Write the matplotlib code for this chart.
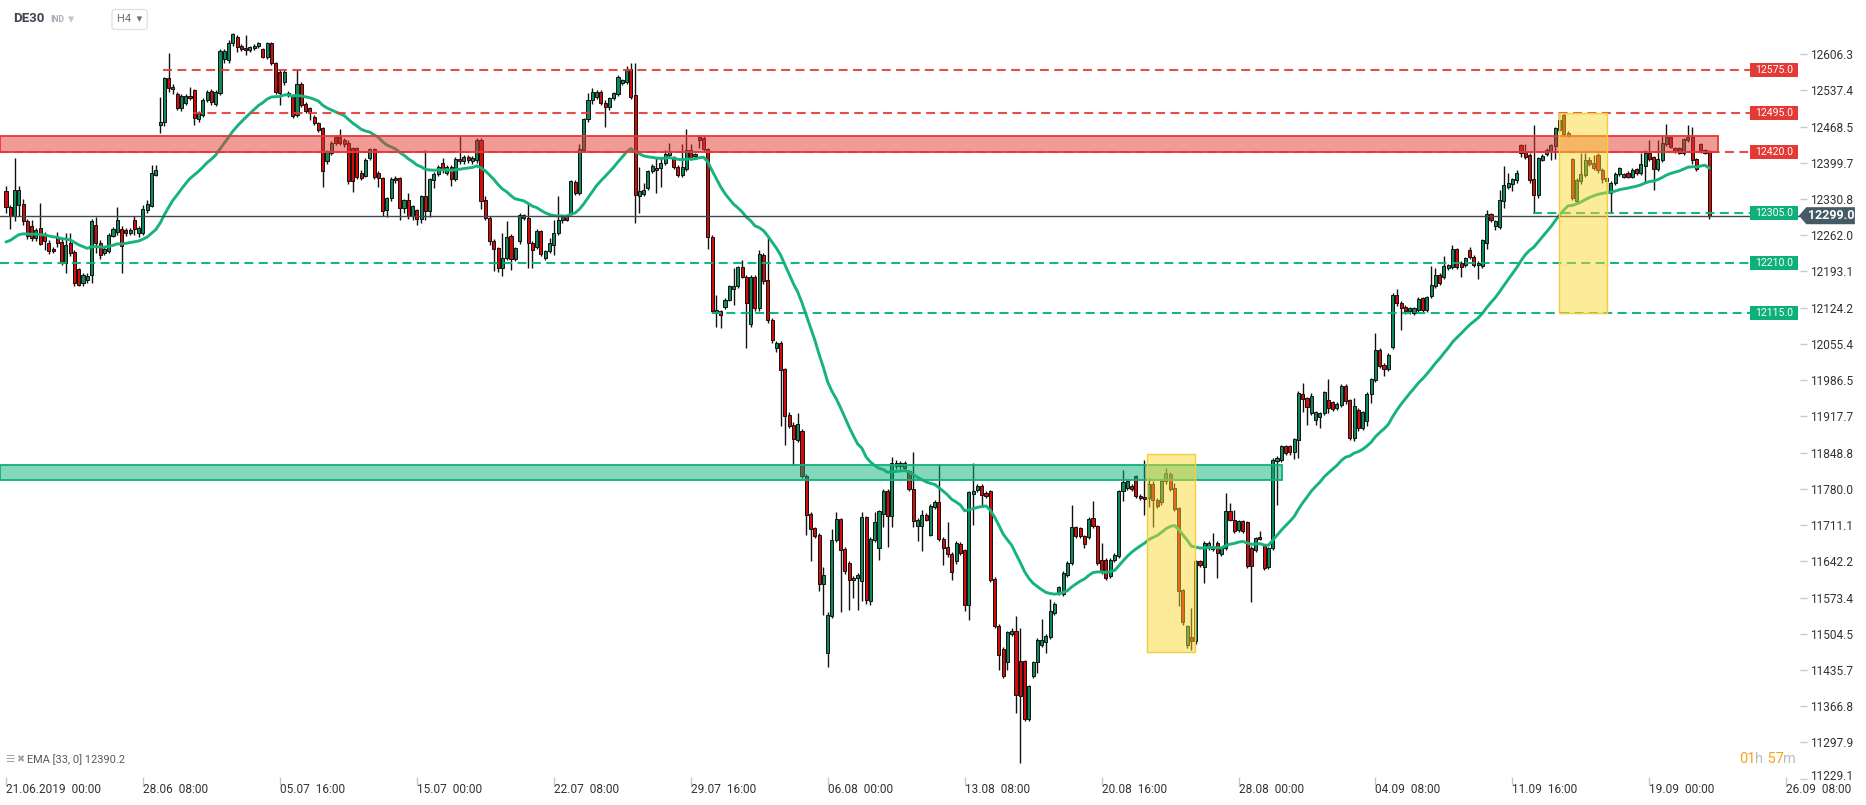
import matplotlib
matplotlib.use("Agg")
import matplotlib.pyplot as plt
from matplotlib.patches import Rectangle, Polygon
from matplotlib.transforms import blended_transform_factory, ScaledTranslation
import numpy as np

plt.rcParams['font.family'] = ['Roboto', 'DejaVu Sans']

# ---------------- data (DE30, H4 candles from 21.06.2019 00:00) ----------------
opens = [
    12345, 12316, 12299, 12320, 12321, 12289, 12280, 12256, 12275, 12263,
    12248, 12236, 12259, 12249, 12209, 12248, 12230, 12197, 12171, 12177,
    12187, 12281, 12248, 12229, 12232, 12261, 12268, 12273, 12272, 12266,
    12290, 12266, 12266, 12310, 12318, 12377, 12472, 12478, 12560, 12539,
    12530, 12503, 12514, 12527, 12537, 12482, 12491, 12519, 12536, 12512,
    12532, 12597, 12594, 12627, 12639, 12622, 12617, 12614, 12617, 12622,
    12615, 12600, 12628, 12590, 12573, 12553, 12529, 12525, 12490, 12549,
    12512, 12503, 12487, 12475, 12465, 12402, 12419, 12449, 12449, 12443,
    12438, 12427, 12427, 12381, 12375, 12408, 12425, 12381, 12370, 12309,
    12332, 12371, 12370, 12313, 12329, 12299, 12309, 12292, 12336, 12307,
    12367, 12378, 12400, 12380, 12392, 12368, 12406, 12402, 12410, 12402,
    12405, 12442, 12328, 12294, 12250, 12237, 12199, 12218, 12261, 12216,
    12250, 12300, 12294, 12247, 12240, 12269, 12218, 12231, 12244, 12266,
    12290, 12299, 12304, 12363, 12342, 12423, 12482, 12519, 12524, 12535,
    12514, 12505, 12522, 12530, 12551, 12554, 12577, 12528, 12337, 12340,
    12351, 12383, 12389, 12389, 12399, 12414, 12410, 12392, 12376, 12387,
    12424, 12412, 12448, 12446, 12425, 12259, 12115, 12117, 12125, 12139,
    12160, 12165, 12201, 12183, 12093, 12183, 12123, 12225, 12177, 12101,
    12047, 12057, 12007, 11921, 11902, 11873, 11890, 11805, 11733, 11705,
    11693, 11600, 11468, 11538, 11682, 11722, 11666, 11639, 11606, 11610,
    11604, 11726, 11566, 11682, 11667, 11732, 11776, 11728, 11829, 11824,
    11829, 11813, 11780, 11709, 11709, 11731, 11693, 11745, 11754, 11685,
    11670, 11657, 11642, 11676, 11663, 11560, 11771, 11777, 11786, 11772,
    11775, 11609, 11520, 11476, 11450, 11505, 11509, 11452, 11452, 11342,
    11424, 11450, 11484, 11488, 11498, 11544, 11582, 11581, 11617, 11639,
    11707, 11705, 11690, 11688, 11724, 11709, 11645, 11645, 11615, 11645,
    11652, 11775, 11781, 11786, 11804, 11767, 11764, 11762, 11790, 11759,
    11754, 11794, 11809, 11781, 11743, 11587, 11484, 11498, 11490, 11642,
    11631, 11667, 11665, 11677, 11657, 11667, 11737, 11721, 11701, 11718,
    11716, 11668, 11664, 11688, 11671, 11631, 11667, 11832, 11834, 11861,
    11861, 11849, 11873, 11961, 11952, 11924, 11911, 11916, 11924, 11948,
    11944, 11933, 11940, 11976, 11948, 11876, 11930, 11895, 11908, 11960,
    11987, 12044, 12016, 12007, 12049, 12149, 12133, 12126, 12117, 12115,
    12120, 12142, 12120, 12146, 12166, 12187, 12183, 12199, 12202, 12235,
    12209, 12205, 12234, 12221, 12205, 12204, 12248, 12302, 12280, 12277,
    12326, 12354, 12359, 12366, 12433, 12421, 12415, 12368, 12338, 12405,
    12416, 12421, 12432, 12462, 12490, 12457, 12406, 12326, 12364, 12376,
    12405, 12400, 12415, 12386, 12370, 12343, 12361, 12378, 12373, 12380,
    12373, 12387, 12381, 12394, 12419, 12410, 12387, 12405, 12435, 12448,
    12427, 12427, 12419, 12443, 12449, 12406, 12435, 12423, 12421,
]
highs = [
    12356, 12320, 12408, 12356, 12330, 12292, 12291, 12275, 12324, 12268,
    12252, 12240, 12268, 12254, 12266, 12267, 12234, 12200, 12190, 12190,
    12292, 12297, 12252, 12240, 12266, 12277, 12316, 12280, 12276, 12276,
    12298, 12280, 12320, 12329, 12396, 12396, 12524, 12563, 12608, 12550,
    12534, 12530, 12530, 12544, 12540, 12498, 12522, 12538, 12540, 12538,
    12615, 12616, 12632, 12646, 12642, 12626, 12642, 12622, 12625, 12630,
    12618, 12630, 12630, 12592, 12576, 12576, 12536, 12530, 12576, 12554,
    12516, 12506, 12490, 12478, 12468, 12424, 12441, 12452, 12464, 12446,
    12442, 12430, 12430, 12385, 12408, 12428, 12428, 12384, 12373, 12334,
    12372, 12375, 12373, 12331, 12342, 12320, 12312, 12339, 12424, 12370,
    12382, 12396, 12408, 12395, 12396, 12410, 12452, 12414, 12414, 12412,
    12446, 12446, 12336, 12298, 12254, 12240, 12267, 12288, 12265, 12240,
    12304, 12303, 12323, 12250, 12274, 12272, 12234, 12256, 12291, 12337,
    12300, 12302, 12366, 12366, 12435, 12484, 12532, 12541, 12538, 12538,
    12518, 12524, 12535, 12566, 12558, 12584, 12589, 12590, 12392, 12361,
    12386, 12397, 12408, 12408, 12424, 12437, 12413, 12395, 12435, 12464,
    12435, 12419, 12452, 12450, 12428, 12262, 12148, 12120, 12142, 12168,
    12199, 12204, 12214, 12186, 12186, 12186, 12234, 12228, 12256, 12104,
    12060, 12060, 12010, 11925, 11906, 11924, 11894, 11808, 11736, 11708,
    11696, 11631, 11545, 11704, 11735, 11725, 11669, 11642, 11614, 11620,
    11735, 11729, 11688, 11735, 11740, 11780, 11779, 11841, 11834, 11833,
    11832, 11816, 11850, 11724, 11740, 11734, 11752, 11758, 11827, 11688,
    11716, 11660, 11680, 11679, 11666, 11776, 11829, 11790, 11789, 11775,
    11778, 11612, 11523, 11479, 11510, 11516, 11538, 11516, 11455, 11408,
    11452, 11496, 11533, 11504, 11571, 11565, 11596, 11623, 11642, 11750,
    11710, 11708, 11693, 11726, 11756, 11712, 11677, 11648, 11648, 11658,
    11778, 11816, 11797, 11789, 11807, 11770, 11835, 11800, 11795, 11762,
    11798, 11820, 11812, 11791, 11746, 11590, 11522, 11554, 11645, 11645,
    11680, 11680, 11696, 11680, 11670, 11772, 11753, 11740, 11721, 11721,
    11719, 11671, 11689, 11700, 11674, 11670, 11838, 11843, 11864, 11864,
    11864, 11877, 11965, 11982, 11955, 11962, 11928, 11926, 11966, 11988,
    11947, 11944, 11979, 11979, 11951, 11952, 11933, 11928, 11964, 11991,
    12076, 12047, 12019, 12038, 12152, 12160, 12136, 12129, 12126, 12126,
    12145, 12145, 12147, 12203, 12199, 12190, 12223, 12208, 12244, 12238,
    12212, 12221, 12240, 12224, 12213, 12255, 12310, 12305, 12291, 12348,
    12394, 12380, 12371, 12386, 12436, 12435, 12418, 12471, 12411, 12416,
    12427, 12436, 12468, 12494, 12495, 12460, 12409, 12370, 12419, 12419,
    12410, 12414, 12418, 12389, 12373, 12365, 12382, 12391, 12381, 12383,
    12389, 12390, 12419, 12424, 12442, 12413, 12443, 12453, 12473, 12451,
    12430, 12430, 12447, 12471, 12468, 12409, 12438, 12426, 12424,
]
lows = [
    12305, 12273, 12288, 12298, 12282, 12255, 12250, 12250, 12243, 12234,
    12226, 12228, 12240, 12206, 12190, 12222, 12165, 12165, 12166, 12172,
    12171, 12228, 12216, 12225, 12228, 12258, 12262, 12190, 12260, 12262,
    12262, 12258, 12262, 12305, 12316, 12374, 12456, 12470, 12535, 12530,
    12500, 12498, 12510, 12518, 12472, 12478, 12487, 12516, 12510, 12508,
    12528, 12590, 12590, 12622, 12611, 12612, 12604, 12610, 12614, 12618,
    12598, 12596, 12586, 12530, 12510, 12548, 12524, 12484, 12486, 12505,
    12494, 12481, 12472, 12458, 12354, 12398, 12415, 12434, 12434, 12430,
    12360, 12344, 12368, 12366, 12372, 12404, 12368, 12354, 12298, 12296,
    12326, 12362, 12290, 12304, 12292, 12290, 12281, 12286, 12290, 12296,
    12352, 12374, 12380, 12376, 12355, 12364, 12398, 12398, 12400, 12398,
    12400, 12312, 12290, 12244, 12193, 12192, 12184, 12214, 12196, 12212,
    12246, 12290, 12199, 12199, 12236, 12222, 12214, 12228, 12225, 12262,
    12286, 12288, 12300, 12338, 12338, 12420, 12478, 12512, 12520, 12510,
    12467, 12500, 12518, 12526, 12548, 12550, 12520, 12286, 12304, 12336,
    12348, 12380, 12343, 12354, 12396, 12410, 12388, 12372, 12372, 12383,
    12405, 12409, 12428, 12420, 12235, 12114, 12088, 12085, 12122, 12136,
    12130, 12162, 12180, 12047, 12088, 12118, 12118, 12170, 12096, 12058,
    12040, 11899, 11864, 11896, 11826, 11868, 11800, 11693, 11642, 11686,
    11585, 11541, 11442, 11534, 11678, 11545, 11619, 11549, 11573, 11550,
    11566, 11562, 11560, 11678, 11645, 11707, 11670, 11708, 11818, 11818,
    11814, 11776, 11708, 11680, 11661, 11718, 11690, 11742, 11680, 11636,
    11650, 11606, 11638, 11654, 11547, 11531, 11712, 11774, 11750, 11762,
    11602, 11516, 11435, 11420, 11435, 11500, 11354, 11259, 11338, 11338,
    11420, 11430, 11480, 11468, 11494, 11540, 11578, 11577, 11613, 11635,
    11686, 11687, 11667, 11684, 11705, 11635, 11619, 11606, 11611, 11641,
    11648, 11756, 11777, 11776, 11762, 11758, 11730, 11745, 11707, 11744,
    11750, 11790, 11776, 11738, 11558, 11522, 11478, 11473, 11486, 11632,
    11601, 11663, 11661, 11610, 11653, 11663, 11718, 11696, 11697, 11696,
    11630, 11564, 11660, 11682, 11625, 11627, 11663, 11750, 11830, 11845,
    11845, 11836, 11838, 11925, 11902, 11920, 11902, 11895, 11920, 11924,
    11928, 11929, 11936, 11942, 11873, 11871, 11890, 11891, 11899, 11943,
    11983, 12010, 11995, 12003, 12045, 12128, 12082, 12113, 12113, 12111,
    12116, 12116, 12116, 12142, 12162, 12167, 12179, 12195, 12198, 12198,
    12183, 12201, 12216, 12201, 12178, 12200, 12235, 12287, 12272, 12273,
    12313, 12350, 12345, 12362, 12411, 12407, 12362, 12305, 12332, 12402,
    12412, 12405, 12406, 12458, 12450, 12449, 12328, 12322, 12360, 12372,
    12394, 12385, 12381, 12362, 12342, 12304, 12357, 12374, 12370, 12370,
    12370, 12377, 12377, 12361, 12403, 12348, 12383, 12401, 12431, 12427,
    12418, 12416, 12414, 12439, 12397, 12384, 12418, 12416, 12292,
]
closes = [
    12315, 12299, 12347, 12348, 12289, 12260, 12256, 12272, 12245, 12250,
    12231, 12231, 12248, 12211, 12244, 12228, 12171, 12168, 12187, 12185,
    12288, 12248, 12225, 12235, 12263, 12274, 12291, 12242, 12266, 12271,
    12273, 12275, 12311, 12322, 12380, 12385, 12477, 12560, 12541, 12544,
    12503, 12527, 12527, 12522, 12484, 12494, 12519, 12535, 12516, 12535,
    12612, 12612, 12628, 12644, 12619, 12615, 12613, 12620, 12622, 12628,
    12600, 12628, 12589, 12535, 12533, 12573, 12533, 12489, 12549, 12509,
    12498, 12494, 12475, 12462, 12383, 12421, 12438, 12438, 12438, 12435,
    12364, 12364, 12373, 12371, 12405, 12425, 12373, 12370, 12307, 12332,
    12368, 12367, 12313, 12329, 12299, 12318, 12292, 12337, 12307, 12368,
    12378, 12392, 12385, 12392, 12368, 12406, 12402, 12411, 12405, 12408,
    12442, 12326, 12294, 12250, 12235, 12199, 12218, 12259, 12216, 12237,
    12300, 12294, 12247, 12234, 12270, 12226, 12231, 12247, 12266, 12291,
    12297, 12291, 12364, 12342, 12425, 12482, 12519, 12535, 12535, 12513,
    12505, 12522, 12533, 12563, 12556, 12577, 12525, 12339, 12345, 12347,
    12383, 12394, 12386, 12399, 12416, 12421, 12391, 12376, 12392, 12424,
    12408, 12416, 12442, 12425, 12258, 12117, 12120, 12111, 12139, 12166,
    12166, 12201, 12183, 12133, 12183, 12123, 12226, 12174, 12101, 12063,
    12058, 12006, 11918, 11900, 11875, 11903, 11804, 11731, 11704, 11690,
    11600, 11617, 11541, 11682, 11723, 11663, 11623, 11606, 11611, 11617,
    11726, 11568, 11685, 11716, 11737, 11776, 11728, 11829, 11824, 11829,
    11820, 11780, 11718, 11721, 11731, 11721, 11748, 11754, 11685, 11668,
    11657, 11621, 11677, 11658, 11560, 11773, 11775, 11786, 11769, 11766,
    11606, 11520, 11465, 11425, 11507, 11509, 11389, 11386, 11343, 11406,
    11450, 11493, 11493, 11501, 11547, 11562, 11593, 11620, 11639, 11707,
    11690, 11691, 11676, 11723, 11709, 11639, 11623, 11610, 11645, 11655,
    11775, 11792, 11794, 11780, 11766, 11762, 11761, 11790, 11758, 11748,
    11794, 11810, 11780, 11742, 11585, 11526, 11519, 11490, 11642, 11636,
    11677, 11677, 11670, 11658, 11667, 11737, 11721, 11699, 11718, 11699,
    11633, 11633, 11686, 11685, 11629, 11667, 11834, 11838, 11861, 11848,
    11849, 11874, 11962, 11951, 11936, 11957, 11925, 11924, 11963, 11933,
    11931, 11941, 11976, 11946, 11876, 11937, 11895, 11925, 11961, 11988,
    12044, 12014, 12007, 12035, 12149, 12133, 12123, 12117, 12123, 12123,
    12140, 12120, 12144, 12167, 12187, 12171, 12204, 12205, 12235, 12202,
    12202, 12218, 12220, 12205, 12210, 12252, 12302, 12291, 12288, 12329,
    12357, 12362, 12368, 12381, 12419, 12411, 12367, 12338, 12408, 12413,
    12424, 12433, 12465, 12481, 12454, 12451, 12332, 12367, 12378, 12405,
    12397, 12389, 12385, 12368, 12365, 12361, 12378, 12389, 12378, 12373,
    12386, 12381, 12397, 12419, 12406, 12387, 12406, 12438, 12448, 12430,
    12421, 12419, 12444, 12449, 12405, 12387, 12421, 12419, 12299,
]

ema_period = 33
ema_seed = 12245.0          # EMA value at the first candle
ema_label = "EMA [33, 0] 12390.2"

x_tick_pos = [0, 32, 64, 96, 128, 160, 192, 224, 256, 288, 320, 352, 384, 416]
x_tick_labels = ["21.06.2019  00:00", "28.06  08:00", "05.07  16:00", "15.07  00:00",
                 "22.07  08:00", "29.07  16:00", "06.08  00:00", "13.08  08:00",
                 "20.08  16:00", "28.08  00:00", "04.09  08:00", "11.09  16:00",
                 "19.09  00:00", "26.09  08:00"]
y_ticks = [12606.3, 12537.4, 12468.5, 12399.7, 12330.8, 12262.0, 12193.1, 12124.2,
           12055.4, 11986.5, 11917.7, 11848.8, 11780.0, 11711.1, 11642.2, 11573.4,
           11504.5, 11435.7, 11366.8, 11297.9, 11229.1]

resist_levels = [12575.0, 12495.0, 12420.0]
resist_start = [36.6, 43.8, -1.4]
support_levels = [12305.0, 12210.0, 12115.0]
support_start = [356.8, -1.4, 164.9]
last_price = 12299.0

red_zone = (-1.4, 400.0, 12420.0, 12450.0)      # x0, x1, y0, y1
green_zone = (-1.4, 298.1, 11797.0, 11825.0)
yellow_boxes = [(266.6, 277.8, 11470.0, 11846.0), (362.9, 374.0, 12114.0, 12494.0)]

# ---------------- styling ----------------
RED = '#e53935'
GREEN = '#0db07b'
C_UP = '#0d8a57'
C_DN = '#d30b0b'
EMA_C = '#17b37c'

o = np.array(opens, float)
h = np.array(highs, float)
l = np.array(lows, float)
c = np.array(closes, float)
n = len(c)
idx = np.arange(n)

fig = plt.figure(figsize=(18.66, 8.05), dpi=100)
ax = fig.add_axes([0, 24 / 805, 1800 / 1866, 781 / 805])
ax.set_xlim(-1.402, 419.2)
ax.set_ylim(11224.7, 12708.9)
for s in ax.spines.values():
    s.set_visible(False)

# candles
up = c >= o
ax.vlines(idx, l, h, color='#111111', lw=1.0, zorder=2)
body_lo = np.minimum(o, c)
body_h = np.maximum(np.abs(c - o), 1.8)
ax.bar(idx, body_h, bottom=body_lo, width=0.72, color=np.where(up, C_UP, C_DN),
       edgecolor='#111111', linewidth=0.7, zorder=2.1)

# EMA 33
alpha = 2.0 / (ema_period + 1)
ema = np.empty(n)
prev = ema_seed
for k in range(n):
    prev = prev + alpha * (c[k] - prev)
    ema[k] = prev
ax.plot(idx, ema, color=EMA_C, lw=2.1, zorder=2.4, solid_capstyle='round')

# level lines
x_end = 407.5
dash = (0, (4.3, 2.6))
for lv, xs in zip(resist_levels, resist_start):
    ax.hlines(lv, xs, x_end, colors=RED, linestyles=dash, lw=1.5, alpha=0.9, zorder=2.6)
for lv, xs in zip(support_levels, support_start):
    ax.hlines(lv, xs, x_end, colors=GREEN, linestyles=dash, lw=1.5, alpha=0.95, zorder=2.6)
ax.axhline(last_price, color='#3d4a52', lw=1.0, zorder=2.55)

# zones
x0, x1, y0, y1 = red_zone
ax.add_patch(Rectangle((x0, y0), x1 - x0, y1 - y0, facecolor=(0.898, 0.224, 0.208, 0.5),
                       edgecolor=RED, lw=1.3, zorder=3))
x0, x1, y0, y1 = green_zone
ax.add_patch(Rectangle((x0, y0), x1 - x0, y1 - y0, facecolor=(0.05, 0.69, 0.48, 0.5),
                       edgecolor=GREEN, lw=1.3, zorder=3))
for (bx0, bx1, by0, by1) in yellow_boxes:
    ax.add_patch(Rectangle((bx0, by0), bx1 - bx0, by1 - by0, facecolor=(0.98, 0.84, 0.17, 0.48),
                           edgecolor='#f4cd3a', lw=1.0, zorder=3.1))

# level labels on the right
bt = blended_transform_factory(ax.transAxes, ax.transData)
half = 13.3
for lv in resist_levels + support_levels:
    col = RED if lv in resist_levels else GREEN
    ax.add_patch(Rectangle((0.9722, lv - half), 0.0267, 2 * half, transform=bt,
                           facecolor=col, edgecolor='none', zorder=5, clip_on=False))
    ax.text(0.9856, lv, f"{lv:.1f}", transform=bt, ha='center', va='center',
            color='white', fontsize=7.6, zorder=6, clip_on=False)

# current price tag
ph = 16.2
ax.add_patch(Polygon([(0.9994, last_price), (1.0035, last_price + ph), (1.0305, last_price + ph),
                      (1.0305, last_price - ph), (1.0035, last_price - ph)], closed=True,
                     transform=bt, facecolor='#455a64', edgecolor='none', zorder=6, clip_on=False))
ax.text(1.0172, last_price, f"{last_price:.1f}", transform=bt, ha='center', va='center',
        color='white', fontsize=9, fontweight='bold', zorder=7, clip_on=False)

# axes ticks
ax.yaxis.tick_right()
ax.set_yticks(y_ticks)
ax.set_yticklabels([f"{v:.1f}" for v in y_ticks])
ax.tick_params(axis='y', which='both', length=5, width=1, color='#c3cbd0', pad=2,
               labelsize=8.6, labelcolor='#333333')
# the lowest price label sits clamped just above the date row
last_lbl = ax.get_yticklabels()[-1]
last_lbl.set_transform(last_lbl.get_transform() + ScaledTranslation(0, 4 / 100, fig.dpi_scale_trans))
ax.set_xticks(x_tick_pos)
ax.set_xticklabels(x_tick_labels, ha='left')
ax.tick_params(axis='x', which='both', direction='inout', length=6, width=1, color='#c3cbd0',
               pad=-1.5, labelsize=8.6, labelcolor='#333333')

# header
W, H = 1866.0, 805.0
fig.text(13 / W, 1 - 19 / H, "DE30", fontsize=9.5, fontweight='bold', color='#3f4650', va='center')
fig.text(50 / W, 1 - 19 / H, "IND", fontsize=6.2, fontweight='bold', color='#a9aeb6', va='center')
fig.text(68 / W, 1 - 19.5 / H, "▾", fontsize=9, color='#c4c8ce', va='center')
fig.text(117 / W, 1 - 19.5 / H, "H4  ▾", fontsize=8, color='#6b7077', va='center',
         bbox=dict(boxstyle='round,pad=0.45,rounding_size=0.25', fc='white', ec='#dde0e4', lw=0.9))

# indicator legend bottom-left
fig.text(5 / W, 1 - 759 / H, "☰", fontsize=7.5, color='#9ea3a9', va='center')
fig.text(16 / W, 1 - 759 / H, "✖", fontsize=7, color='#9ea3a9', va='center')
fig.text(27 / W, 1 - 759.5 / H, ema_label, fontsize=7.9, color='#555a60', va='center')

# candle countdown
t1 = fig.text(1739 / W, 1 - 759 / H, "01", fontsize=10.5, color='#f7a21b', va='center')
t2 = ax.annotate("h", xy=(1, 0), xycoords=t1, va='bottom', fontsize=10.5, color='#b9bdc2',
                 annotation_clip=False)
t3 = ax.annotate(" 57", xy=(1, 0), xycoords=t2, va='bottom', fontsize=10.5, color='#f7a21b',
                 annotation_clip=False)
ax.annotate("m", xy=(1, 0), xycoords=t3, va='bottom', fontsize=10.5, color='#b9bdc2',
            annotation_clip=False)

fig.savefig("out.png", dpi=100, facecolor='white')
